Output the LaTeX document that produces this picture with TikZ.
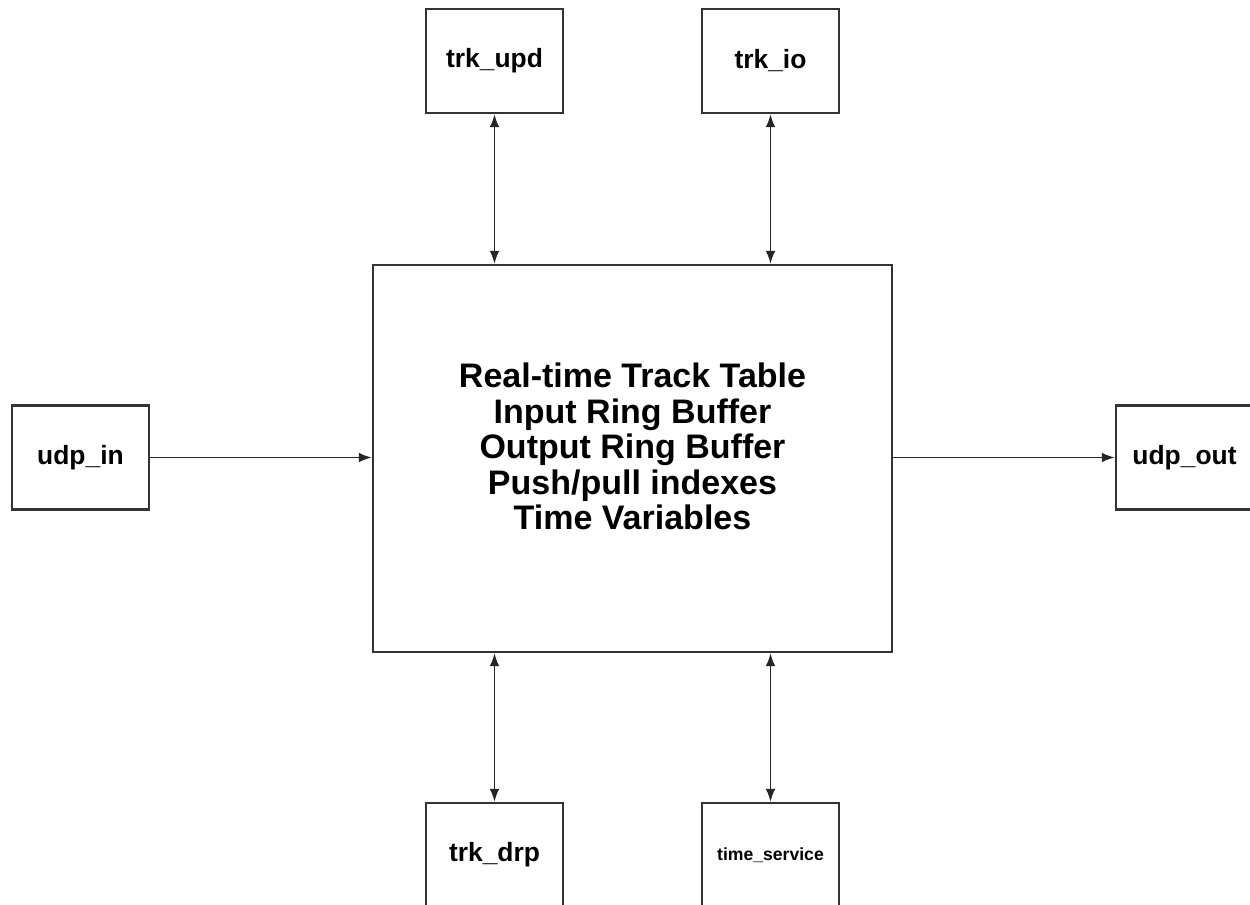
\documentclass[tikz,border=0pt]{standalone}
\usepackage{fontspec}
\setmainfont{Liberation Sans}
\usetikzlibrary{arrows.meta}
\begin{document}
\begin{tikzpicture}[x=0.5pt,y=-0.5pt,
		box/.style={draw=black!80,line width=1.1pt,minimum width=68.5pt,minimum height=52pt,inner sep=0pt,font=\bfseries\fontsize{13.2}{15}\selectfont},
		link/.style={draw=black!85,line width=0.9pt,>={Latex[length=6.5pt,width=4.8pt]}}]
			\useasboundingbox (0,0) rectangle (1250,905);

			% central store
			\node [draw=black!80,line width=1.1pt,minimum width=259.5pt,minimum height=193.5pt] (core) at (632.5,458.5) {};
			\node [align=center,font=\bfseries\fontsize{17}{17.8}\selectfont] (corelbl) at (632.5,446.5)
				{Real-time Track Table\\Input Ring Buffer\\Output Ring Buffer\\Push/pull indexes\\Time Variables};

			% tasks round it
			\node [box] (trkupd) at ( 494.5, 61  ) {trk\_upd};
			\node [box] (trkio)  at ( 770.5, 61  ) {trk\_io};
			\node [box] (udpin)  at (  80.5,457.5) {udp\_in};
			\node [box] (udpout) at (1184.5,457.5) {udp\_out};
			\node [box] (trkdrp) at ( 494.5,855  ) {trk\_drp};
			\node [box,font=\bfseries\fontsize{8.8}{10}\selectfont] (timesvc) at ( 770.5,855) {time\_service};

			\draw [link,<->] (trkupd.south)  -- (trkupd.south  |- core.north);
			\draw [link,<->] (trkio.south)   -- (trkio.south   |- core.north);
			\draw [link,<->] (trkdrp.north)  -- (trkdrp.north  |- core.south);
			\draw [link,<->] (timesvc.north) -- (timesvc.north |- core.south);
			\draw [link,->]  (udpin.east)    -- (udpin.east    -| core.west);
			\draw [link,->]  (udpout.west -| core.east) -- (udpout.west);
		\end{tikzpicture}
\end{document}
